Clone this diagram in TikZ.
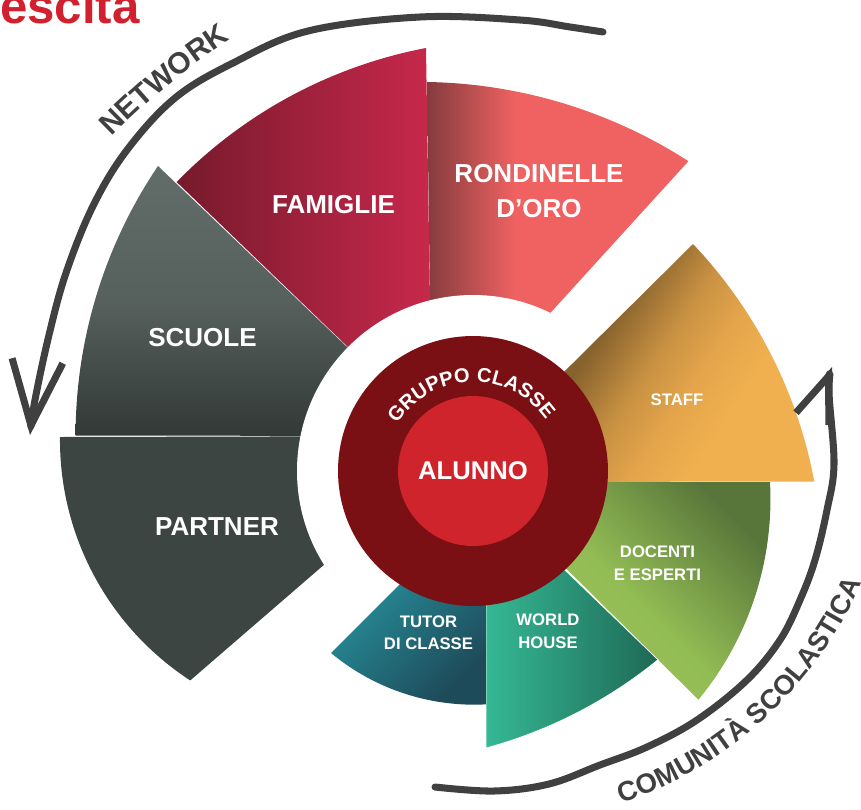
\documentclass[tikz,border=0pt]{standalone}
\usepackage{fontspec}
\setmainfont{Liberation Sans}
\usepackage{tikz}
\usetikzlibrary{arrows.meta,decorations.text}

\definecolor{famdark}{RGB}{118,26,44}
\definecolor{famlight}{RGB}{200,40,76}
\definecolor{rondark}{RGB}{133,59,62}
\definecolor{ronlight}{RGB}{240,98,98}
\definecolor{scutop}{RGB}{98,108,104}
\definecolor{scumid}{RGB}{86,96,92}
\definecolor{scubot}{RGB}{50,57,55}
\definecolor{partgray}{RGB}{60,69,66}
\definecolor{stafdark}{RGB}{135,98,45}
\definecolor{stafbrown}{RGB}{200,145,66}
\definecolor{stafmid}{RGB}{228,165,75}
\definecolor{staflight}{RGB}{240,176,80}
\definecolor{docdark}{RGB}{88,118,58}
\definecolor{docmid}{RGB}{146,188,84}
\definecolor{doclight}{RGB}{160,202,92}
\definecolor{worldlight}{RGB}{53,184,148}
\definecolor{worlddark}{RGB}{30,105,85}
\definecolor{tutlight}{RGB}{42,163,175}
\definecolor{tutdark}{RGB}{30,75,90}
\definecolor{classe}{RGB}{122,16,20}
\definecolor{alunno}{RGB}{208,36,44}
\definecolor{brush}{RGB}{64,64,64}
\definecolor{titlered}{RGB}{211,32,46}

\pgfdeclarehorizontalshading{rondinelle}{100bp}{color(0bp)=(rondark); color(25bp)=(rondark); color(42bp)=(ronlight); color(100bp)=(ronlight)}
\pgfdeclareverticalshading{staff}{100bp}{color(0bp)=(staflight); color(32.5bp)=(staflight); color(40bp)=(stafmid); color(47.5bp)=(stafbrown); color(57bp)=(stafdark); color(100bp)=(stafdark)}

\begin{document}
\begin{tikzpicture}[x=0.02cm, y=0.02cm,
        lbl/.style={text=white, align=center, inner sep=0pt},
        big/.style={lbl, font=\fontsize{14.8}{20.2}\selectfont\bfseries},
        small/.style={lbl, font=\fontsize{9.5}{12.8}\selectfont\bfseries},
        brushline/.style={draw=brush, line width=4pt, line cap=round, line join=round},
        ringtext/.style={decorate, decoration={text along path, text align=left}}
    ]
    \useasboundingbox (-473,-338) rectangle (388,471);
    \clip (-473,-338) rectangle (388,471);

    % network
    \fill[partgray] (0,35) -- (-413,34) arc[start angle=179.4, end angle=236.9, radius=287] -- cycle;
    \shade[top color=scutop, bottom color=scubot, middle color=scumid] (-33,35) -- (-315,305) arc[start angle=146, end angle=180, radius=482] -- cycle;
    \shade[shading=rondinelle] (-41,28) -- (-46,389) arc[start angle=89.1, end angle=57.2, radius=497] -- cycle;
    \shade[left color=famdark, right color=famlight] (-41,43) -- (-47,423) arc[start angle=100.8, end angle=135.7, radius=472] -- cycle;
    \fill[white] (0,0) circle[radius=176];

    % comunita scolastica
    \shade[shading=staff, shading angle=56.6] (-20,-11) -- (220,227) arc[start angle=43.5, end angle=10.6, radius=471] -- cycle;
    \shade[top color=docdark, bottom color=doclight, middle color=docmid, shading angle=-45] (6,-11) -- (297,-11) arc[start angle=3.1, end angle=-39.5, radius=315.5] -- cycle;
    \shade[left color=worldlight, right color=worlddark, draw=white, line width=0.4pt] (13,-23) -- (13,-277) arc[start angle=-74.85, end angle=-50.8, radius=464] -- cycle;
    \shade[top color=tutlight, bottom color=tutdark, shading angle=45] (13,-27) -- (-142,-182) arc[start angle=230.3, end angle=273, radius=224] -- cycle;

    % centro
    \node[circle, fill=classe, minimum size=5.4cm, inner sep=0pt] (gruppo) at (0,0) {};
    \node[circle, fill=alunno, minimum size=3cm, inner sep=0pt, text=white,
        font=\fontsize{14.6}{14.6}\selectfont\bfseries] (alunno) at (0,0) {ALUNNO};
    \path[decorate, decoration={text along path, text align=fit to path,
        text={|\color{white}\fontsize{11.4}{11.4}\selectfont\bfseries|GRUPPO CLASSE}}]
        (148:89) arc[start angle=148, end angle=35, radius=89];

    % etichette
    \node[big] (famiglie) at (-139.5,266) {FAMIGLIE};
    \node[big] (rondinelle) at (66,280) {RONDINELLE\\D’ORO};
    \node[big] (scuole) at (-270.5,133) {SCUOLE};
    \node[big] (partner) at (-256,-55.5) {PARTNER};
    \node[small] (staff) at (204,71) {STAFF};
    \node[small] (docenti) at (184.5,-92) {DOCENTI\\E ESPERTI};
    \node[small] (tutor) at (-44.5,-161.5) {TUTOR\\DI CLASSE};
    \node[small] (world) at (75,-160) {WORLD\\HOUSE};

    % frecce
    \draw[brushline, -{Straight Barb[length=37pt, width=29pt]}] plot[smooth, tension=0.6] coordinates {(130,439) (97,444) (47,451) (-53,454) (-165,440) (-240,408) (-298,373) (-346,321) (-380,265) (-407,198) (-424,136) (-438,71) (-443,36)};
    \draw[brushline, -{Straight Barb[length=26pt, width=20pt]}] plot[smooth, tension=0.6] coordinates {(-38,-316) (21,-320) (76,-313) (127,-294) (174,-276) (224,-249) (274,-209) (307,-169) (327,-129) (342,-89) (354,-39) (361,7) (356,79) (359,104)};
    \path[ringtext, decoration={text={|\color{brush}\fontsize{17}{17}\selectfont\bfseries|NETWORK}}]
        ([shift={(135.3:750)}]171.7,-193.5) arc[start angle=135.3, end angle=110, radius=750];
    \path[ringtext, decoration={text={|\color{brush}\fontsize{15.7}{15.7}\selectfont\bfseries|COMUNITÀ SCOLASTICA}}]
        ([shift={(-71.5:400)}]21.9,47.3) arc[start angle=-71.5, end angle=0, radius=400];

    \node[anchor=base east, inner sep=0pt, text=titlered, font=\fontsize{28}{28}\selectfont\bfseries] (titolo) at (-333,448) {escita};
\end{tikzpicture}
\end{document}
